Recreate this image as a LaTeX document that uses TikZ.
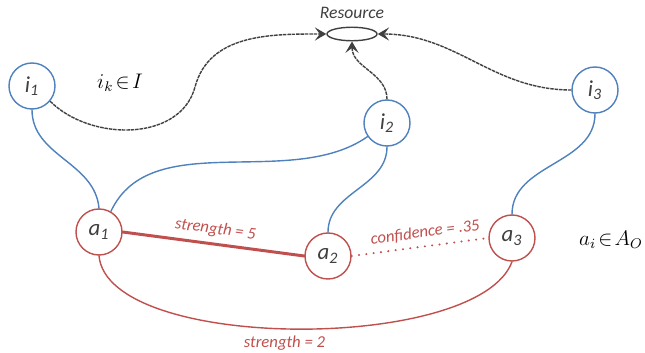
\documentclass[tikz,border=0pt]{standalone}
\usepackage{fontspec}
\setmainfont{Carlito}
\usetikzlibrary{arrows.meta,shapes.geometric,positioning}
\definecolor{blu}{RGB}{79,129,189}
\definecolor{rd}{RGB}{192,80,77}
\definecolor{ink}{RGB}{64,64,64}
\begin{document}
\begin{tikzpicture}[line join=round, line cap=round,
	>={Stealth[length=6.5pt,width=7.5pt,inset=2.8pt]},
	inode/.style={circle,draw=blu,line width=0.8pt,fill=white,minimum size=0.92cm,
		inner sep=0pt,text=ink,font=\fontsize{13}{15}\selectfont\itshape},
	anode/.style={inode,draw=rd},
	iedge/.style={blu,line width=0.8pt},
	aedge/.style={rd,line width=0.8pt},
	reach/.style={->,ink,line width=0.8pt,line cap=butt,dash pattern=on 2pt off 0.5pt},
	lbl/.style={rd,font=\fontsize{9.5}{11}\selectfont\itshape}]
	\useasboundingbox (0,0) rectangle (12.9,7.04);
	% resource
	\node[ellipse,draw=ink,line width=0.8pt,minimum width=1cm,minimum height=0.27cm,
		inner sep=0pt] (res) at (7.04,6.36) {};
	\node[above=0.3mm of res,text=ink,font=\fontsize{10}{12}\selectfont\itshape] (restxt) {Resource};
	% agents and instances
	\node[inode] (i1) at (0.64,5.32) {i\textsubscript{1}};
	\node[inode] (i2) at (7.74,4.58) {i\textsubscript{2}};
	\node[inode] (i3) at (11.9,5.24) {i\textsubscript{3}};
	\node[anode] (a1) at (1.98,2.40) {a\textsubscript{1}};
	\node[anode] (a2) at (6.56,1.92) {a\textsubscript{2}};
	\node[anode] (a3) at (10.24,2.28) {a\textsubscript{3}};
	\node[font=\large] (iset) at (2.40,5.38) {$i_k\!\in\! I$};
	\node[font=\large] (aset) at (12.22,2.24) {$a_i\!\in\! A_O$};
	% instances use the resource
	\draw[reach] (i1.-40) to[out=-45,in=-105] (3.9,5.3) to[out=75,in=180] (res.west);
	\draw[reach] (i2.north) to[out=90,in=-90] (res.south);
	\draw[reach] (i3.west) to[out=180,in=0] (res.east);
	% instance of
	\draw[iedge] (i1.south) to[out=-90,in=95] (a1.north);
	\draw[iedge] (i2.-145) to[out=-145,in=65,looseness=0.9] (a1.60);
	\draw[iedge] (i2.south) to[out=-90,in=90] (a2.north);
	\draw[iedge] (i3.south) to[out=-90,in=90] (a3.north);
	% agent links
	\draw[aedge,line width=1.7pt] (a1.east) -- node[lbl,above,sloped] {strength = 5} (a2.west);
	\draw[aedge,line width=1.3pt,dash pattern=on 0pt off 4.2pt] (a2.east) --
		node[lbl,above,sloped,pos=0.55] {confidence = .35} (a3.west);
	\draw[aedge] (a1.south) to[out=-85,in=-110,looseness=0.6]
		node[lbl,below,pos=0.48] {strength = 2} (a3.south);
\end{tikzpicture}
\end{document}
